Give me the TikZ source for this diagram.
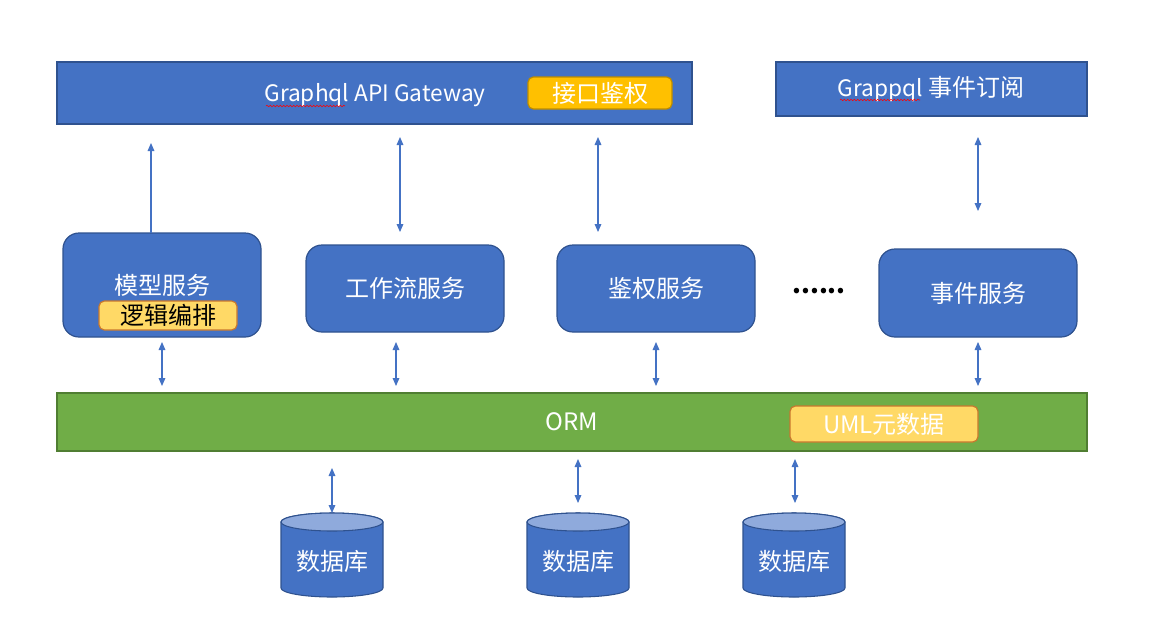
\documentclass[tikz,border=0pt]{standalone}
\usepackage{fontspec}
\setmainfont{Noto Sans CJK SC}
\usetikzlibrary{arrows.meta,decorations.pathmorphing}
\definecolor{bfill}{HTML}{4472C4}
\definecolor{bline}{HTML}{2F528F}
\definecolor{gfill}{HTML}{70AD47}
\definecolor{gline}{HTML}{507E32}
\definecolor{ofill}{HTML}{FFC000}
\definecolor{oline}{HTML}{BC8C00}
\definecolor{yfill}{HTML}{FFD966}
\definecolor{yline}{HTML}{C9782E}
\definecolor{ctop}{HTML}{8FAADC}
\definecolor{arrc}{HTML}{4472C4}
\newcommand\dbcyl[2]{%
  \path[fill=bfill,draw=bline,line width=0.8pt] (#1-51,522) -- (#1-51,588)
    arc[start angle=180,end angle=360,x radius=38.25pt,y radius=6.75pt]
    -- (#1+51,522)
    arc[start angle=0,end angle=180,x radius=38.25pt,y radius=6.75pt] -- cycle;
  \path[fill=ctop,draw=bline,line width=0.8pt] (#1,522) ellipse[x radius=38.25pt,y radius=6.75pt];
  \node[txt] (#2) at (#1,561) {数据库};
}
\begin{document}
\begin{tikzpicture}[x=0.75pt,y=-0.75pt,
  every node/.style={inner sep=0pt, outer sep=0pt},
  txt/.style={font=\fontsize{18}{20}\selectfont, text=white},
  rect/.style={draw=bline, fill=bfill, line width=0.9pt},
  svc/.style={rect, rounded corners=12pt},
  tag/.style={rounded corners=4pt, line width=0.9pt},
  link/.style={draw=arrc, line width=0.8pt, {Triangle[width=5pt,length=6pt]}-{Triangle[width=5pt,length=6pt]}},
  uplink/.style={draw=arrc, line width=0.8pt, -{Triangle[width=5pt,length=6pt]}},
  squiggle/.style={draw=red, line width=0.4pt, decorate, decoration={snake, amplitude=0.6pt, segment length=2.5pt}},
]
\useasboundingbox (0,0) rectangle (1149,626);
\fill[white] (0,0) rectangle (1149,626);

% top layer
\node[rect, minimum width=635*0.75pt, minimum height=62*0.75pt] (gw) at (374.5,93) {};
\node[txt, font=\fontsize{17}{20}\selectfont] (gwt) at (375,95) {Graphql API Gateway};
\node[tag, txt, draw=oline, fill=ofill, minimum width=144*0.75pt, minimum height=32*0.75pt] (auth) at (600,93) {接口鉴权};
\node[rect, minimum width=311*0.75pt, minimum height=54*0.75pt] (ev) at (931.5,89) {};
\node[txt] (evt) at (931,89) {{\fontsize{17}{20}\selectfont Grappql} 事件订阅};
\draw[squiggle] (266,106) -- (345,106);
\draw[squiggle] (840,100) -- (920,100);

% services
\node[svc, minimum width=198*0.75pt, minimum height=104*0.75pt] (m) at (162,285) {};
\node[txt] (mt) at (162,285) {模型服务};
\node[tag, draw=yline, fill=yfill, minimum width=138*0.75pt, minimum height=29*0.75pt, font=\fontsize{18}{20}\selectfont] (logic) at (168,315.5) {逻辑编排};
\node[svc, txt, minimum width=198*0.75pt, minimum height=87*0.75pt] (wf) at (405,288.5) {工作流服务};
\node[svc, txt, minimum width=198*0.75pt, minimum height=87*0.75pt] (au) at (656,288.5) {鉴权服务};
\node[font=\fontsize{19}{22}\selectfont\bfseries] (dots) at (819,291) {......};
\node[svc, txt, minimum width=198*0.75pt, minimum height=88*0.75pt] (es) at (978,293) {事件服务};

% ORM
\node[draw=gline, fill=gfill, line width=0.9pt, minimum width=1030*0.75pt, minimum height=58*0.75pt] (orm) at (572,422) {};
\node[txt] (ormt) at (572,422) {ORM};
\node[tag, txt, draw=yline, fill=yfill, minimum width=188*0.75pt, minimum height=36*0.75pt] (uml) at (884,424) {UML元数据};

% databases
\dbcyl{332}{db1}
\dbcyl{578}{db2}
\dbcyl{794}{db3}

% connector end points
\coordinate (a1s) at (151,233); \coordinate (a1e) at (151,143);
\coordinate (a2s) at (400,232); \coordinate (a2e) at (400,137);
\coordinate (a3s) at (598,232); \coordinate (a3e) at (598,137);
\coordinate (a4s) at (978,211); \coordinate (a4e) at (978,137);
\coordinate (b1s) at (162,386); \coordinate (b1e) at (162,342);
\coordinate (b2s) at (396,386); \coordinate (b2e) at (396,342);
\coordinate (b3s) at (656,386); \coordinate (b3e) at (656,342);
\coordinate (b4s) at (978,386); \coordinate (b4e) at (978,342);
\coordinate (c1s) at (332,513); \coordinate (c1e) at (332,468);
\coordinate (c2s) at (578,503); \coordinate (c2e) at (578,459);
\coordinate (c3s) at (795,503); \coordinate (c3e) at (795,459);

\draw[uplink] (a1s) -- (a1e);
\draw[link] (a2s) -- (a2e);
\draw[link] (a3s) -- (a3e);
\draw[link] (a4s) -- (a4e);
\draw[link] (b1s) -- (b1e);
\draw[link] (b2s) -- (b2e);
\draw[link] (b3s) -- (b3e);
\draw[link] (b4s) -- (b4e);
\draw[link] (c1s) -- (c1e);
\draw[link] (c2s) -- (c2e);
\draw[link] (c3s) -- (c3e);
\end{tikzpicture}
\end{document}
